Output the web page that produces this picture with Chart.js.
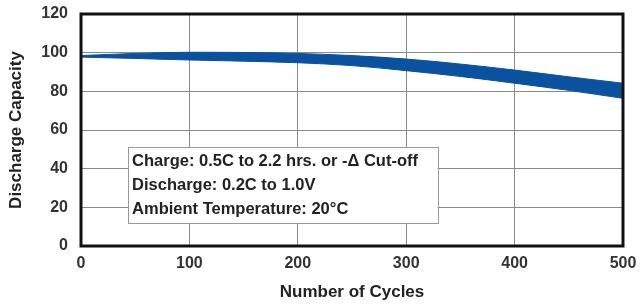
<!DOCTYPE html>
<html>
<head>
<meta charset="utf-8">
<script src="https://cdn.jsdelivr.net/npm/chart.js@4"></script>
<style>
  html, body { margin: 0; padding: 0; background: #fff; }
  #wrap { width: 640px; height: 306px; position: relative; }
</style>
</head>
<body>
<div id="wrap"><canvas id="cap"></canvas></div>
<script>
// cycle counts and upper / lower edge of the capacity band (%)
const cycles = [0, 50, 100, 150, 200, 250, 300, 350, 400, 450, 500];
const upperCap = [98.5, 99.6, 100.2, 100.1, 99.6, 98.5, 96.7, 94.1, 91.0, 87.5, 84.2];
const lowerCap = [97.7, 97.0, 96.2, 95.6, 94.8, 93.3, 90.7, 87.7, 84.2, 80.5, 76.4];
const xTicks = [0, 100, 200, 300, 400, 500];
const yTicks = [0, 20, 40, 60, 80, 100, 120];
const noteLines = ['Charge: 0.5C to 2.2 hrs. or -\u0394 Cut-off', 'Discharge: 0.2C to 1.0V', 'Ambient Temperature: 20\u00b0C'];

const BLUE = '#0a519f';
const FONT = '"Liberation Sans", Arial, sans-serif';

// outer frame + condition note
const framePlugin = {
  id: 'frame',
  afterDatasetsDraw(chart) {
    const { ctx, chartArea: a, scales: { x, y } } = chart;
    ctx.save();
    // note box
    const bx = x.getPixelForValue(43.4), by = y.getPixelForValue(51.2);
    const bw = x.getPixelForValue(329) - bx, bh = y.getPixelForValue(11.9) - by;
    ctx.fillStyle = '#fff';
    ctx.fillRect(bx, by, bw, bh);
    ctx.strokeStyle = '#999';
    ctx.lineWidth = 1;
    ctx.strokeRect(Math.round(bx) + 0.5, Math.round(by) + 0.5, Math.round(bw), Math.round(bh));
    ctx.fillStyle = '#222';
    ctx.font = 'bold 16.5px ' + FONT;
    ctx.textBaseline = 'middle';
    noteLines.forEach((t, i) => ctx.fillText(t, bx + 4, by + 14 + i * 24));
    // heavy plot border
    ctx.strokeStyle = '#111';
    ctx.lineWidth = 3;
    ctx.strokeRect(a.left, a.top, a.right - a.left, a.bottom - a.top);
    ctx.restore();
  }
};

new Chart(document.getElementById('cap').getContext('2d'), {
  type: 'line',
  data: {
    labels: cycles,
    datasets: [
      { data: cycles.map((c, i) => ({ x: c, y: upperCap[i] })), borderColor: BLUE, borderWidth: 1, pointRadius: 0, cubicInterpolationMode: 'monotone', fill: '+1', backgroundColor: BLUE },
      { data: cycles.map((c, i) => ({ x: c, y: lowerCap[i] })), borderColor: BLUE, borderWidth: 1, pointRadius: 0, cubicInterpolationMode: 'monotone', fill: false }
    ]
  },
  options: {
    responsive: true,
    maintainAspectRatio: false,
    animation: false,
    layout: { padding: { top: 14, right: 17, left: 0, bottom: 0 } },
    plugins: { legend: { display: false }, tooltip: { enabled: false } },
    scales: {
      x: {
        type: 'linear', min: 0, max: 500,
        afterBuildTicks: s => { s.ticks = xTicks.map(v => ({ value: v })); },
        afterFit: s => { s.height = 60; s.paddingLeft = 0; s.paddingRight = 0; },
        grid: { color: '#8a8a8a', lineWidth: 1, drawTicks: false },
        border: { display: false },
        ticks: { color: '#333', font: { family: FONT, size: 16, weight: 'bold' }, padding: 8 },
        title: { display: true, text: 'Number of Cycles', color: '#222', font: { family: FONT, size: 17, weight: 'bold' }, padding: { top: 4, bottom: 3 } }
      },
      y: {
        min: 0, max: 120,
        afterBuildTicks: s => { s.ticks = yTicks.map(v => ({ value: v })); },
        afterFit: s => { s.width = 81; s.paddingTop = 0; s.paddingBottom = 0; },
        grid: { color: '#8a8a8a', lineWidth: 1, drawTicks: false },
        border: { display: false },
        ticks: { color: '#333', font: { family: FONT, size: 16, weight: 'bold' }, padding: 13 },
        title: { display: true, text: 'Discharge Capacity', color: '#222', font: { family: FONT, size: 17, weight: 'bold' }, padding: { top: 6, bottom: 0 } }
      }
    }
  },
  plugins: [framePlugin]
});
</script>
</body>
</html>
